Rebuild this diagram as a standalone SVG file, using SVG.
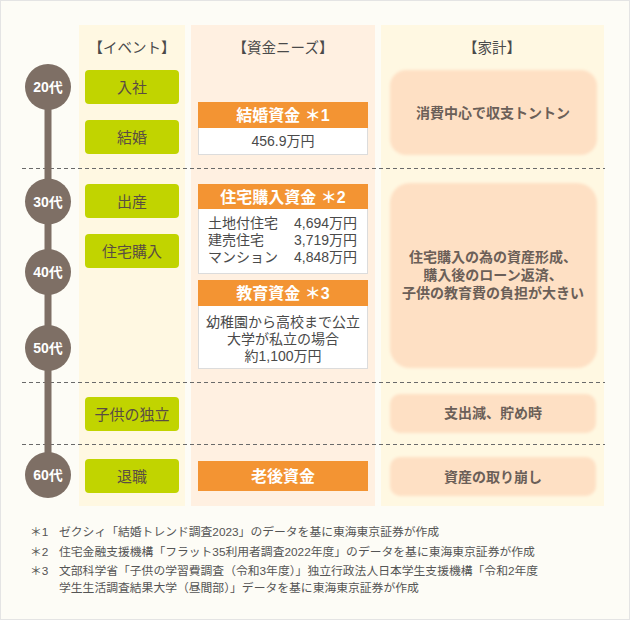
<svg xmlns="http://www.w3.org/2000/svg" width="630" height="620" viewBox="0 0 630 620">
<defs>
<style>
text{font-family:"Liberation Sans","Noto Sans CJK JP",sans-serif;}
.hdr{font-size:14.5px;fill:#4a4a4a;text-anchor:middle;}
.age{font-size:14px;font-weight:bold;fill:#ffffff;text-anchor:middle;}
.evt{fill:#c1d400;}
.evtx{font-size:15px;fill:#5a4d42;text-anchor:middle;}
.ohd{fill:#f39433;}
.ohx{font-size:16px;font-weight:bold;fill:#ffffff;text-anchor:middle;}
.body{fill:#ffffff;stroke:#dcdcdc;stroke-width:1;}
.btx{font-size:14px;fill:#4a4a4a;}
.blob{fill:#fee0c4;filter:url(#soft);}
.hx{font-size:14px;font-weight:bold;fill:#6b5f58;text-anchor:middle;}
.dash{stroke:#6a6a6a;stroke-width:1;stroke-dasharray:4 3;fill:none;}
.note{font-size:11.8px;fill:#555555;}
</style>
<filter id="soft" x="-10%" y="-10%" width="120%" height="120%">
<feGaussianBlur stdDeviation="1.6"/>
</filter>
</defs>
<rect x="0.5" y="0.5" width="629" height="619" fill="#fdfcf6" stroke="#e4e4e4"/>
<g id="columns">
<rect x="79" y="25" width="106" height="481" fill="#fff8e2"/>
<rect x="191" y="25" width="184" height="481" fill="#fff0e1"/>
<rect x="381" y="25" width="223" height="481" fill="#fff8e2"/>
<text class="hdr" x="132" y="53">【イベント】</text>
<text class="hdr" x="283" y="53">【資金ニーズ】</text>
<text class="hdr" x="492" y="53">【家計】</text>
</g>
<g id="connectors">
<line class="dash" x1="22" y1="168.5" x2="605" y2="168.5"/>
<line class="dash" x1="22" y1="382.5" x2="605" y2="382.5"/>
<line class="dash" x1="22" y1="444.5" x2="605" y2="444.5"/>
<line x1="48" y1="87" x2="48" y2="475" stroke="#7e6f65" stroke-width="7"/>
</g>
<g id="age20"><circle cx="48" cy="87" r="23" fill="#7e6f65"/><text class="age" x="48" y="92">20代</text></g>
<g id="age30"><circle cx="48" cy="201.5" r="23" fill="#7e6f65"/><text class="age" x="48" y="206.5">30代</text></g>
<g id="age40"><circle cx="48" cy="272" r="23" fill="#7e6f65"/><text class="age" x="48" y="277">40代</text></g>
<g id="age50"><circle cx="48" cy="348" r="23" fill="#7e6f65"/><text class="age" x="48" y="353">50代</text></g>
<g id="age60"><circle cx="48" cy="475" r="23" fill="#7e6f65"/><text class="age" x="48" y="480">60代</text></g>
<g id="ev-nyusha"><rect class="evt" x="85" y="70" width="94" height="34" rx="4"/><text class="evtx" x="132" y="92.5">入社</text></g>
<g id="ev-kekkon"><rect class="evt" x="85" y="120" width="94" height="34" rx="4"/><text class="evtx" x="132" y="142.5">結婚</text></g>
<g id="ev-shussan"><rect class="evt" x="85" y="184" width="94" height="34" rx="4"/><text class="evtx" x="132" y="206.5">出産</text></g>
<g id="ev-jutaku"><rect class="evt" x="85" y="234" width="94" height="34" rx="4"/><text class="evtx" x="132" y="256.5">住宅購入</text></g>
<g id="ev-dokuritsu"><rect class="evt" x="85" y="397" width="94" height="34" rx="4"/><text class="evtx" x="132" y="419.5">子供の独立</text></g>
<g id="ev-taishoku"><rect class="evt" x="85" y="459" width="94" height="34" rx="4"/><text class="evtx" x="132" y="481.5">退職</text></g>
<g id="need-kekkon">
<rect class="body" x="198.5" y="127.5" width="169" height="27"/>
<rect class="ohd" x="198" y="102" width="170" height="26"/>
<text class="ohx" x="283" y="121">結婚資金 ＊1</text>
<text class="btx" x="283" y="146" text-anchor="middle">456.9万円</text>
</g>
<g id="need-jutaku">
<rect class="body" x="198.5" y="208.5" width="169" height="65"/>
<rect class="ohd" x="198" y="184" width="170" height="25"/>
<text class="ohx" x="283" y="202.5">住宅購入資金 ＊2</text>
<text class="btx"><tspan x="208" y="228">土地付住宅</tspan><tspan x="208" y="245">建売住宅</tspan><tspan x="208" y="262">マンション</tspan></text>
<text class="btx" text-anchor="end"><tspan x="357" y="228">4,694万円</tspan><tspan x="357" y="245">3,719万円</tspan><tspan x="357" y="262">4,848万円</tspan></text>
</g>
<g id="need-kyoiku">
<rect class="body" x="198.5" y="305.5" width="169" height="63"/>
<rect class="ohd" x="198" y="280" width="170" height="26"/>
<text class="ohx" x="283" y="299">教育資金 ＊3</text>
<text class="btx" text-anchor="middle"><tspan x="283" y="326.5">幼稚園から高校まで公立</tspan><tspan x="283" y="343.5">大学が私立の場合</tspan><tspan x="283" y="360.5">約1,100万円</tspan></text>
</g>
<g id="need-rogo">
<rect class="ohd" x="198" y="461" width="170" height="30"/>
<text class="ohx" x="283" y="481.5">老後資金</text>
</g>
<g id="kakei-1"><rect class="blob" x="390" y="70" width="207" height="85" rx="16"/><text class="hx" x="493" y="118">消費中心で収支トントン</text></g>
<g id="kakei-2"><rect class="blob" x="390" y="183" width="207" height="185" rx="20"/>
<text class="hx"><tspan x="493" y="262">住宅購入の為の資産形成、</tspan><tspan x="493" y="280">購入後のローン返済、</tspan><tspan x="493" y="298">子供の教育費の負担が大きい</tspan></text></g>
<g id="kakei-3"><rect class="blob" x="390" y="394" width="206" height="39" rx="10"/><text class="hx" x="493" y="418">支出減、貯め時</text></g>
<g id="kakei-4"><rect class="blob" x="390" y="457" width="206" height="39" rx="10"/><text class="hx" x="493" y="481.5">資産の取り崩し</text></g>
<g id="notes">
<text class="note" x="30" y="536">＊1</text><text class="note" x="59" y="536">ゼクシィ「結婚トレンド調査2023」のデータを基に東海東京証券が作成</text>
<text class="note" x="30" y="556">＊2</text><text class="note" x="59" y="556">住宅金融支援機構「フラット35利用者調査2022年度」のデータを基に東海東京証券が作成</text>
<text class="note" x="30" y="575">＊3</text><text class="note"><tspan x="59" y="575">文部科学省「子供の学習費調査（令和3年度）」独立行政法人日本学生支援機構「令和2年度</tspan><tspan x="59" y="592">学生生活調査結果大学（昼間部）」データを基に東海東京証券が作成</tspan></text>
</g>
</svg>
